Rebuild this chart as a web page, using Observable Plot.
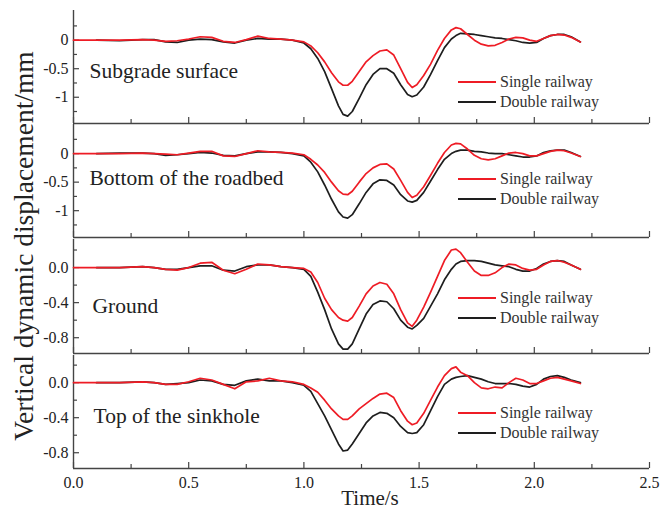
<!DOCTYPE html>
<html><head><meta charset="utf-8">
<script src="https://cdn.jsdelivr.net/npm/d3@7"></script>
<script src="https://cdn.jsdelivr.net/npm/@observablehq/plot@0.6"></script>
<style>
body{margin:0;background:#fff;}
#chart{position:relative;width:669px;height:510px;overflow:hidden;font-family:"Liberation Serif","Times New Roman",serif;color:#222;}
#chart svg{position:absolute;left:0;top:0;}
.leg{position:absolute;left:458px;font-size:16px;line-height:20px;height:20px;display:flex;align-items:center;white-space:nowrap;color:#333;}
.leg span.sw{display:inline-block;width:38px;height:0;border-top:2px solid;margin-right:4px;}
#ylab{position:absolute;left:-186px;top:231px;width:420px;height:30px;line-height:30px;text-align:center;font-size:27.5px;transform:rotate(-90deg);white-space:nowrap;}
#xlab{position:absolute;left:320px;top:485px;width:100px;text-align:center;font-size:21px;line-height:26px;}
</style></head><body><div id="chart"></div><script>
const time = [0, 0.1, 0.2, 0.3, 0.35, 0.4, 0.45, 0.5, 0.55, 0.6, 0.65, 0.7, 0.75, 0.8, 0.85, 0.9, 0.95, 1.0,
  1.03, 1.06, 1.09, 1.12, 1.15, 1.17, 1.19, 1.21, 1.24, 1.27, 1.30, 1.33, 1.36, 1.39, 1.42, 1.45, 1.47, 1.49, 1.52, 1.55,
  1.58, 1.61, 1.64, 1.66, 1.68, 1.71, 1.74, 1.77, 1.80, 1.83, 1.86, 1.89, 1.92, 1.95, 1.98, 2.01, 2.04, 2.07, 2.10, 2.13, 2.16, 2.2];

const panelNames = ["Subgrade surface", "Bottom of the roadbed", "Ground", "Top of the sinkhole"];
const seriesNames = ["Single railway", "Double railway"];

const single1 = [0, 0, 0, 0.01, 0, -0.02, -0.01, 0.02, 0.06, 0.05, -0.02, -0.04, 0.01, 0.07, 0.03, 0.02, 0.0, -0.03,
  -0.1, -0.22, -0.38, -0.57, -0.73, -0.79, -0.79, -0.72, -0.55, -0.38, -0.27, -0.19, -0.17, -0.26, -0.5,
  -0.74, -0.83, -0.78, -0.62, -0.42, -0.18, 0.03, 0.18, 0.22, 0.2, 0.1, 0.0, -0.07, -0.1, -0.09,
  -0.04, 0.02, 0.05, 0.04, 0.0, -0.02, 0.03, 0.08, 0.1, 0.09, 0.05, -0.03];
const double1 = [NaN, 0, -0.01, 0.01, 0.01, -0.03, -0.04, 0.0, 0.02, 0.01, -0.03, -0.05, 0.0, 0.03, 0.02, 0.02, 0.0, -0.05,
  -0.15, -0.32, -0.55, -0.85, -1.15, -1.3, -1.33, -1.25, -1.02, -0.78, -0.6, -0.5, -0.5, -0.58, -0.78,
  -0.95, -0.99, -0.96, -0.82, -0.6, -0.36, -0.13, 0.02, 0.08, 0.12, 0.11, 0.1, 0.08, 0.06, 0.04,
  0.03, 0.01, -0.01, -0.04, -0.05, -0.04, 0.03, 0.08, 0.1, 0.1, 0.06, -0.03];

const single2 = [0, 0, 0, 0.01, 0, -0.01, -0.02, 0.01, 0.04, 0.04, -0.04, -0.05, 0.0, 0.05, 0.03, 0.02, 0.01, -0.02,
  -0.1, -0.2, -0.33, -0.5, -0.65, -0.71, -0.72, -0.66, -0.5, -0.35, -0.25, -0.19, -0.18, -0.27, -0.47,
  -0.68, -0.77, -0.73, -0.58, -0.38, -0.17, 0.02, 0.15, 0.18, 0.17, 0.08, -0.03, -0.09, -0.11, -0.09,
  -0.04, 0.01, 0.02, 0.0, -0.04, -0.04, 0.0, 0.04, 0.06, 0.05, 0.01, -0.05];
const double2 = [NaN, 0, 0.01, 0.01, 0.0, -0.03, -0.02, 0.0, 0.02, 0.01, -0.03, -0.04, 0.0, 0.03, 0.03, 0.02, 0.0, -0.04,
  -0.15, -0.32, -0.55, -0.8, -1.02, -1.11, -1.13, -1.07, -0.88, -0.68, -0.53, -0.46, -0.47, -0.55, -0.72,
  -0.83, -0.85, -0.82, -0.68, -0.48, -0.28, -0.1, 0.0, 0.04, 0.06, 0.06, 0.04, 0.03, 0.01, 0.0,
  0.0, -0.02, -0.04, -0.06, -0.06, -0.04, 0.02, 0.05, 0.06, 0.06, 0.02, -0.05];

const single3 = [0, 0, 0, 0.01, 0.0, -0.02, -0.03, 0.0, 0.05, 0.06, -0.03, -0.07, -0.02, 0.04, 0.03, 0.01, 0.0, -0.01,
  -0.05, -0.17, -0.35, -0.48, -0.57, -0.6, -0.61, -0.57, -0.44, -0.3, -0.21, -0.17, -0.19, -0.3, -0.48,
  -0.63, -0.67, -0.6, -0.45, -0.28, -0.1, 0.08, 0.2, 0.21, 0.17, 0.06, -0.04, -0.09, -0.09, -0.06,
  0.0, 0.04, 0.03, -0.01, -0.03, -0.02, 0.03, 0.07, 0.08, 0.06, 0.03, -0.02];
const double3 = [NaN, 0, 0, 0.01, 0.0, -0.02, -0.02, 0.0, 0.02, 0.02, -0.03, -0.04, 0.01, 0.03, 0.03, 0.01, 0.0, -0.02,
  -0.1, -0.28, -0.48, -0.7, -0.87, -0.93, -0.93, -0.87, -0.7, -0.53, -0.42, -0.38, -0.39, -0.47, -0.6,
  -0.68, -0.7, -0.66, -0.58, -0.44, -0.3, -0.14, -0.02, 0.04, 0.07, 0.08, 0.08, 0.07, 0.05, 0.03,
  0.02, 0.01, -0.02, -0.04, -0.04, -0.01, 0.04, 0.07, 0.08, 0.07, 0.03, -0.02];

const single4 = [0, 0, 0, 0.01, 0.0, -0.02, -0.02, 0.01, 0.05, 0.03, -0.02, -0.07, 0.01, 0.02, 0.05, 0.02, 0.01, -0.02,
  -0.06, -0.11, -0.2, -0.3, -0.38, -0.42, -0.42, -0.38, -0.3, -0.24, -0.18, -0.13, -0.12, -0.17, -0.32,
  -0.44, -0.48, -0.46, -0.35, -0.2, -0.05, 0.08, 0.16, 0.18, 0.12, 0.08, 0.0, -0.06, -0.07, -0.05,
  -0.06, 0.0, 0.05, 0.03, -0.01, -0.01, 0.02, 0.05, 0.06, 0.04, 0.02, -0.01];
const double4 = [NaN, 0, 0, 0.01, 0.0, -0.02, -0.01, 0.0, 0.03, 0.02, -0.02, -0.03, 0.02, 0.04, 0.02, 0.02, 0.0, -0.03,
  -0.1, -0.24, -0.38, -0.54, -0.7, -0.78, -0.77, -0.7, -0.58, -0.46, -0.38, -0.34, -0.35, -0.4, -0.5,
  -0.57, -0.58, -0.57, -0.48, -0.32, -0.16, -0.02, 0.04, 0.06, 0.07, 0.08, 0.06, 0.04, 0.01, -0.01,
  -0.01, -0.01, -0.02, -0.04, -0.05, -0.02, 0.04, 0.07, 0.08, 0.06, 0.03, 0.0];

const xTickLabels = [0, 0.5, 1.0, 1.5, 2.0, 2.5];
const xMinorTicks = [0.25, 0.75, 1.25, 1.75, 2.25];
const yLabelsA = [0, -0.5, -1];
const yMinorA = [0.25, -0.25, -0.75, -1.25];
const yLabelsB = [0, -0.4, -0.8];
const yMinorB = [0.2, -0.2, -0.6];

const RED = "#ee1c25", BLACK = "#1e1e1e", AXIS = "#444";
const W = 669, H = 510, ML = 73, MR = 20;

const panels = [
  {name: panelNames[0], s: single1, d: double1, top: 10, bottom: 123, domain: [-1.46, 0.52], labels: yLabelsA, minor: yMinorA, fmt: d => String(d), dx: 16, dy: 4, leg: 82},
  {name: panelNames[1], s: single2, d: double2, top: 124, bottom: 237, domain: [-1.47, 0.51], labels: yLabelsA, minor: yMinorA, fmt: d => String(d), dx: 16, dy: -3, leg: 179},
  {name: panelNames[2], s: single3, d: double3, top: 239, bottom: 353, domain: [-0.98, 0.32], labels: yLabelsB, minor: yMinorB, fmt: d => d.toFixed(1), dx: 19, dy: 10, leg: 298},
  {name: panelNames[3], s: single4, d: double4, top: 355, bottom: 468, domain: [-0.98, 0.31], labels: yLabelsB, minor: yMinorB, fmt: d => d.toFixed(1), dx: 20, dy: 4, leg: 413}
];

const chart = document.getElementById("chart");
panels.forEach((p, i) => {
  const fh = p.bottom - p.top, fw = W - ML - MR;
  const sRows = time.map((t, k) => ({t, v: p.s[k]}));
  const dRows = time.map((t, k) => ({t, v: p.d[k]}));
  const last = i === panels.length - 1;
  const marks = [
    Plot.ruleX([0], {stroke: AXIS, strokeWidth: 1.4}),
    Plot.ruleY([p.domain[0]], {stroke: AXIS, strokeWidth: 1.4}),
    Plot.tickX(xTickLabels, {x: d => d, insetTop: fh - 6, stroke: AXIS, strokeWidth: 1.2}),
    Plot.tickX(xMinorTicks, {x: d => d, insetTop: fh - 4, stroke: AXIS, strokeWidth: 1.2}),
    Plot.tickY(p.labels, {y: d => d, insetRight: fw - 6, stroke: AXIS, strokeWidth: 1.2}),
    Plot.tickY(p.minor, {y: d => d, insetRight: fw - 4, stroke: AXIS, strokeWidth: 1.2}),
    Plot.axisY({ticks: p.labels, tickSize: 0, tickPadding: 5, tickFormat: p.fmt, label: null, fontSize: 16}),
    Plot.line(dRows, {x: "t", y: "v", stroke: BLACK, strokeWidth: 1.7}),
    Plot.line(sRows, {x: "t", y: "v", stroke: RED, strokeWidth: 1.7}),
    Plot.text([p.name], {text: d => d, frameAnchor: "left", textAnchor: "start", dx: p.dx, dy: p.dy, fontSize: 21.5, fill: "#222"})
  ];
  if (last) marks.push(Plot.axisX({ticks: xTickLabels, tickSize: 0, tickPadding: 8, tickFormat: d => d.toFixed(1), label: null, fontSize: 16}));
  const svg = Plot.plot({
    width: W, height: H,
    marginLeft: ML, marginRight: MR, marginTop: p.top, marginBottom: H - p.bottom,
    x: {domain: [0, 2.5], axis: last ? undefined : null},
    y: {domain: p.domain},
    style: {background: "transparent", fontFamily: "'Liberation Serif','Times New Roman',serif", fontSize: "16px", color: "#222", overflow: "visible"},
    marks
  });
  chart.appendChild(svg);
  [[seriesNames[0], RED, p.leg], [seriesNames[1], BLACK, p.leg + 20]].forEach(([label, col, y]) => {
    const el = document.createElement("div");
    el.className = "leg";
    el.style.top = (y - 10) + "px";
    el.innerHTML = `<span class="sw" style="border-color:${col}"></span>${label}`;
    chart.appendChild(el);
  });
});
const yl = document.createElement("div"); yl.id = "ylab"; yl.textContent = "Vertical dynamic displacement/mm"; chart.appendChild(yl);
const xl = document.createElement("div"); xl.id = "xlab"; xl.textContent = "Time/s"; chart.appendChild(xl);
</script></body></html>
